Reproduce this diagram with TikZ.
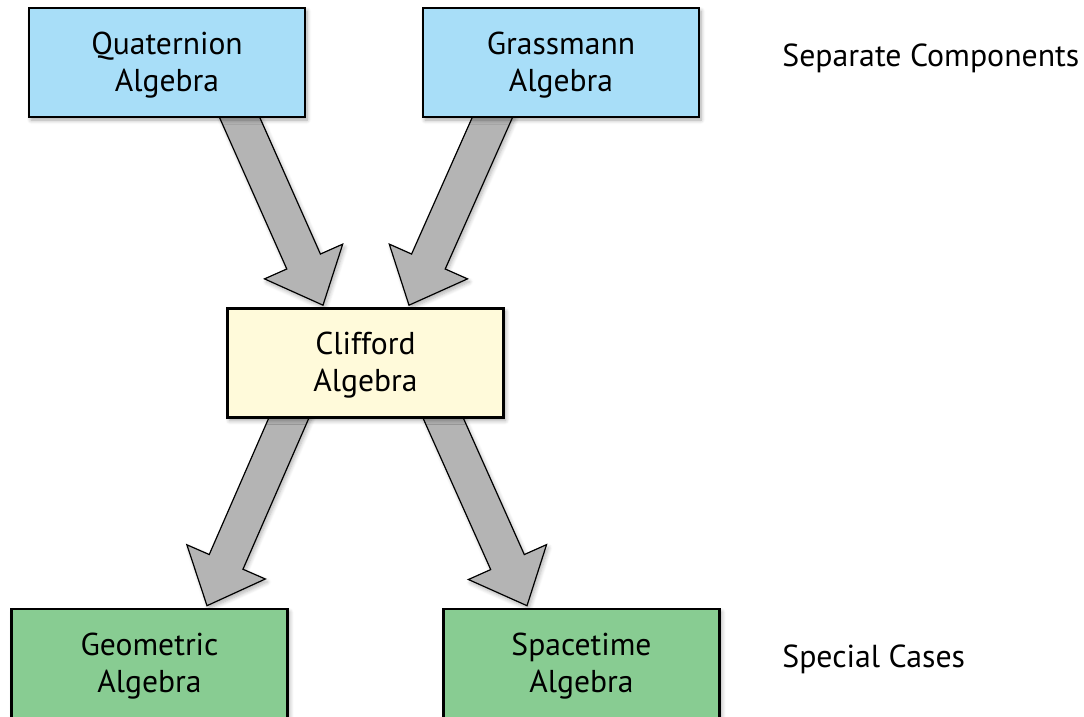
\documentclass[tikz,border=0pt]{standalone}
\usepackage{fontspec}
\setmainfont{PT Sans}
\usetikzlibrary{calc,shadows.blur,backgrounds}
\definecolor{qblue}{RGB}{168,222,248}
\definecolor{cyellow}{RGB}{255,250,218}
\definecolor{ggreen}{RGB}{136,204,146}
\definecolor{agray}{RGB}{180,180,180}
\newcommand\twolines[2]{\raisebox{-1.5pt}[\height][\depth]{\begin{tabular}{@{}c@{}}#1\\#2\end{tabular}}}
\newcommand\fatarrow[2]{%
  \coordinate (fa-s) at ($(#1)!-14pt!(#2)$);
  \coordinate (fa-h) at ($(#2)!23.9pt!(#1)$);
  \draw[fat] ($(fa-s)!9.2pt!90:(#2)$) -- ($(fa-h)!9.2pt!-90:(fa-s)$) -- ($(fa-h)!21.4pt!-90:(fa-s)$) -- (#2) -- ($(fa-h)!21.4pt!90:(fa-s)$) -- ($(fa-h)!9.2pt!90:(fa-s)$) -- ($(fa-s)!9.2pt!-90:(#2)$) -- cycle;}
\begin{document}
\begin{tikzpicture}[x=0.5pt,y=-0.5pt,
  box/.style={draw=black, line width=1.3pt, minimum width=138pt, minimum height=54.5pt, inner sep=0pt,
    font=\fontsize{15.8}{18.5}\selectfont,
    blur shadow={shadow xshift=1pt, shadow yshift=-1.5pt, shadow blur steps=6, shadow opacity=35}},
  fat/.style={fill=agray, draw=black, line width=0.6pt, line join=miter,
    blur shadow={shadow xshift=1pt, shadow yshift=-1.5pt, shadow blur steps=6, shadow opacity=30}},
  lbl/.style={font=\fontsize{15.9}{18}\selectfont, anchor=base west, inner sep=0pt}]
\useasboundingbox (0,0) rectangle (1084,717);
\node[box, fill=qblue] (q) at (167,62.5) {\twolines{Quaternion}{Algebra}};
\node[box, fill=qblue] (g) at (561,62.5) {\twolines{Grassmann}{Algebra}};
\node[box, fill=cyellow] (c) at (365.5,363) {\twolines{Clifford}{Algebra}};
\node[box, fill=ggreen] (geo) at (149.5,663.5) {\twolines{Geometric}{Algebra}};
\node[box, fill=ggreen] (st) at (581.5,663.5) {\twolines{Spacetime}{Algebra}};
\node[lbl] (sep) at (782,67) {Separate Components};
\node[lbl] (spc) at (782,668) {Special Cases};
\coordinate (s1) at ($(q.south)+(73,0)$);
\coordinate (t1) at ($(c.north)+(-42.5,-2)$);
\coordinate (s2) at ($(g.south)+(-69,0)$);
\coordinate (t2) at ($(c.north)+(43.5,-2)$);
\coordinate (s3) at ($(c.south)+(-77,0)$);
\coordinate (t3) at ($(geo.north)+(57.5,-2)$);
\coordinate (s4) at ($(c.south)+(78,0)$);
\coordinate (t4) at ($(st.north)+(-54.5,-2)$);
\begin{scope}[on background layer]
\fatarrow{s1}{t1}
\fatarrow{s2}{t2}
\fatarrow{s3}{t3}
\fatarrow{s4}{t4}
\end{scope}
\end{tikzpicture}
\end{document}
